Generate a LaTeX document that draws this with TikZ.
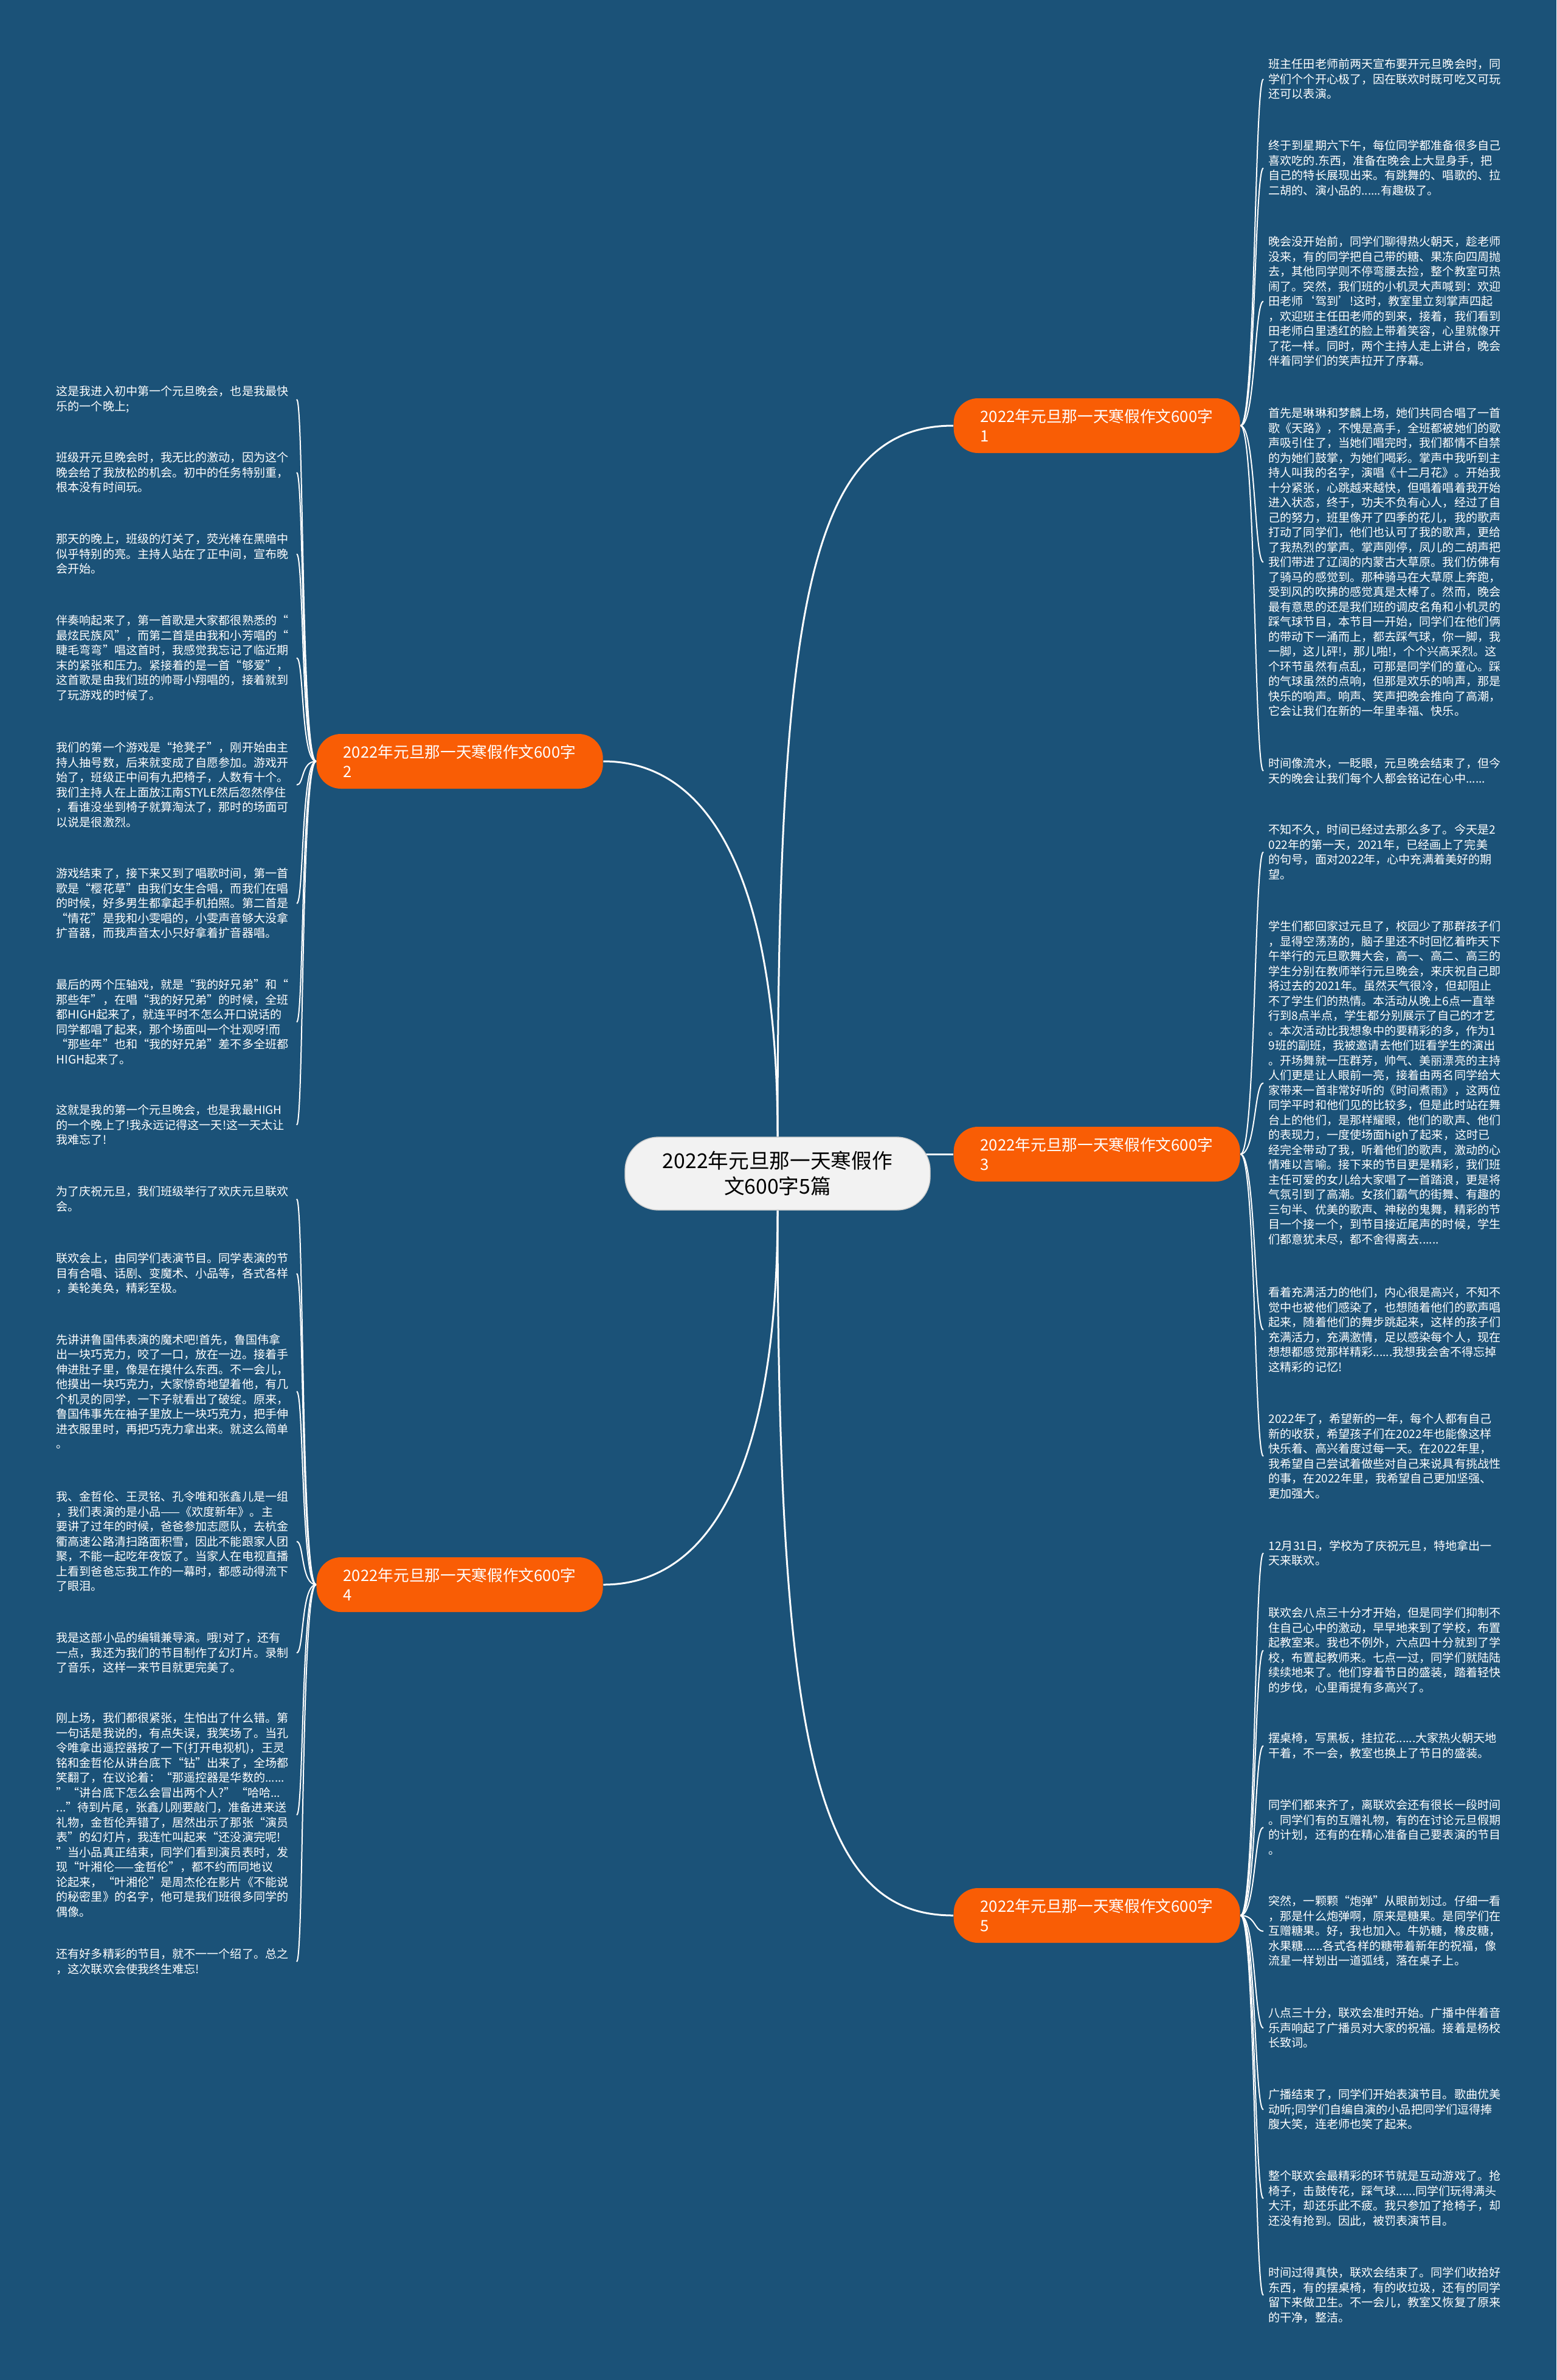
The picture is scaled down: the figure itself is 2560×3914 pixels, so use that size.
\documentclass[tikz,border=0pt]{standalone}
\usepackage{fontspec}
\newfontfamily\cjk{Noto Sans CJK SC}
\usetikzlibrary{backgrounds}

\definecolor{bgblue}{HTML}{1B5278}
\definecolor{branchorange}{HTML}{F95D05}
\definecolor{hubgray}{HTML}{F2F2F2}

\tikzset{
  leaf/.style={anchor=north west,align=left,inner xsep=0.8mm,inner ysep=0pt,
    text=white,font=\cjk\fontsize{5.43pt}{6.97pt}\selectfont},
  branch/.style={anchor=west,fill=branchorange,rounded corners=4mm,text=white,
    minimum height=9mm,text width=38.3mm,inner xsep=4.4mm,align=left,
    font=\cjk\fontsize{7.31pt}{9.1pt}\selectfont},
  hub/.style={fill=hubgray,draw=gray!40,rounded corners=5.5mm,minimum width=50.2mm,
    minimum height=12mm,align=center,text=black,
    font=\cjk\fontsize{9.59pt}{11.95pt}\selectfont},
  limb/.style={draw=white,line width=0.3mm},
  twig/.style={draw=white,line width=0.2mm}
}

\begin{document}
\begin{tikzpicture}[x=0.1mm,y=-0.1mm]
\useasboundingbox (0,0) rectangle (2560,3914);
\begin{scope}[on background layer]
\fill[bgblue] (0,0) rectangle (2560,3914);
\end{scope}

\node[hub] (cn) at (1279,1930) {2022年元旦那一天寒假作\\文600字5篇};

\node[branch] (b1) at (1568,700) {2022年元旦那一天寒假作文600字\\1};
\node[branch] (b2) at (520,1252) {2022年元旦那一天寒假作文600字\\2};
\node[branch] (b3) at (1568,1898) {2022年元旦那一天寒假作文600字\\3};
\node[branch] (b4) at (520,2606) {2022年元旦那一天寒假作文600字\\4};
\node[branch] (b5) at (1568,3150) {2022年元旦那一天寒假作文600字\\5};

% branch 1
\node[leaf] (R1a) at (2078,96) {班主任田老师前两天宣布要开元旦晚会时，同\\学们个个开心极了，因在联欢时既可吃又可玩\\还可以表演。};
\node[leaf] (R1b) at (2078,230) {终于到星期六下午，每位同学都准备很多自己\\喜欢吃的.东西，准备在晚会上大显身手，把\\自己的特长展现出来。有跳舞的、唱歌的、拉\\二胡的、演小品的......有趣极了。};
\node[leaf] (R1c) at (2078,388) {晚会没开始前，同学们聊得热火朝天，趁老师\\没来，有的同学把自己带的糖、果冻向四周抛\\去，其他同学则不停弯腰去捡，整个教室可热\\闹了。突然，我们班的小机灵大声喊到：欢迎\\田老师‘驾到’!这时，教室里立刻掌声四起\\，欢迎班主任田老师的到来，接着，我们看到\\田老师白里透红的脸上带着笑容，心里就像开\\了花一样。同时，两个主持人走上讲台，晚会\\伴着同学们的笑声拉开了序幕。};
\node[leaf] (R1d) at (2078,670) {首先是琳琳和梦麟上场，她们共同合唱了一首\\歌《天路》，不愧是高手，全班都被她们的歌\\声吸引住了，当她们唱完时，我们都情不自禁\\的为她们鼓掌，为她们喝彩。掌声中我听到主\\持人叫我的名字，演唱《十二月花》。开始我\\十分紧张，心跳越来越快，但唱着唱着我开始\\进入状态，终于，功夫不负有心人，经过了自\\己的努力，班里像开了四季的花儿，我的歌声\\打动了同学们，他们也认可了我的歌声，更给\\了我热烈的掌声。掌声刚停，凤儿的二胡声把\\我们带进了辽阔的内蒙古大草原。我们仿佛有\\了骑马的感觉到。那种骑马在大草原上奔跑，\\受到风的吹拂的感觉真是太棒了。然而，晚会\\最有意思的还是我们班的调皮名角和小机灵的\\踩气球节目，本节目一开始，同学们在他们俩\\的带动下一涌而上，都去踩气球，你一脚，我\\一脚，这儿砰!，那儿啪!，个个兴高采烈。这\\个环节虽然有点乱，可那是同学们的童心。踩\\的气球虽然的点响，但那是欢乐的响声，那是\\快乐的响声。响声、笑声把晚会推向了高潮，\\它会让我们在新的一年里幸福、快乐。};
\node[leaf] (R1e) at (2078,1246) {时间像流水，一眨眼，元旦晚会结束了，但今\\天的晚会让我们每个人都会铭记在心中......};

% branch 3
\node[leaf] (R3a) at (2078,1355) {不知不久，时间已经过去那么多了。今天是2\\022年的第一天，2021年，已经画上了完美\\的句号，面对2022年，心中充满着美好的期\\望。};
\node[leaf] (R3b) at (2078,1514) {学生们都回家过元旦了，校园少了那群孩子们\\，显得空荡荡的，脑子里还不时回忆着昨天下\\午举行的元旦歌舞大会，高一、高二、高三的\\学生分别在教师举行元旦晚会，来庆祝自己即\\将过去的2021年。虽然天气很冷，但却阻止\\不了学生们的热情。本活动从晚上6点一直举\\行到8点半点，学生都分别展示了自己的才艺\\。本次活动比我想象中的要精彩的多，作为1\\9班的副班，我被邀请去他们班看学生的演出\\。开场舞就一压群芳，帅气、美丽漂亮的主持\\人们更是让人眼前一亮，接着由两名同学给大\\家带来一首非常好听的《时间煮雨》，这两位\\同学平时和他们见的比较多，但是此时站在舞\\台上的他们，是那样耀眼，他们的歌声、他们\\的表现力，一度使场面high了起来，这时已\\经完全带动了我，听着他们的歌声，激动的心\\情难以言喻。接下来的节目更是精彩，我们班\\主任可爱的女儿给大家唱了一首踏浪，更是将\\气氛引到了高潮。女孩们霸气的街舞、有趣的\\三句半、优美的歌声、神秘的鬼舞，精彩的节\\目一个接一个，到节目接近尾声的时候，学生\\们都意犹未尽，都不舍得离去......};
\node[leaf] (R3c) at (2078,2116) {看着充满活力的他们，内心很是高兴，不知不\\觉中也被他们感染了，也想随着他们的歌声唱\\起来，随着他们的舞步跳起来，这样的孩子们\\充满活力，充满激情，足以感染每个人，现在\\想想都感觉那样精彩......我想我会舍不得忘掉\\这精彩的记忆!};
\node[leaf] (R3d) at (2078,2324) {2022年了，希望新的一年，每个人都有自己\\新的收获，希望孩子们在2022年也能像这样\\快乐着、高兴着度过每一天。在2022年里，\\我希望自己尝试着做些对自己来说具有挑战性\\的事，在2022年里，我希望自己更加坚强、\\更加强大。};

% branch 5
\node[leaf] (R5a) at (2078,2532) {12月31日，学校为了庆祝元旦，特地拿出一\\天来联欢。};
\node[leaf] (R5b) at (2078,2643) {联欢会八点三十分才开始，但是同学们抑制不\\住自己心中的激动，早早地来到了学校，布置\\起教室来。我也不例外，六点四十分就到了学\\校，布置起教师来。七点一过，同学们就陆陆\\续续地来了。他们穿着节日的盛装，踏着轻快\\的步伐，心里甭提有多高兴了。};
\node[leaf] (R5c) at (2078,2849) {摆桌椅，写黑板，挂拉花......大家热火朝天地\\干着，不一会，教室也换上了节日的盛装。};
\node[leaf] (R5d) at (2078,2959) {同学们都来齐了，离联欢会还有很长一段时间\\。同学们有的互赠礼物，有的在讨论元旦假期\\的计划，还有的在精心准备自己要表演的节目\\。};
\node[leaf] (R5e) at (2078,3117) {突然，一颗颗“炮弹”从眼前划过。仔细一看\\，那是什么炮弹啊，原来是糖果。是同学们在\\互赠糖果。好，我也加入。牛奶糖，橡皮糖，\\水果糖......各式各样的糖带着新年的祝福，像\\流星一样划出一道弧线，落在桌子上。};
\node[leaf] (R5f) at (2078,3301) {八点三十分，联欢会准时开始。广播中伴着音\\乐声响起了广播员对大家的祝福。接着是杨校\\长致词。};
\node[leaf] (R5g) at (2078,3435) {广播结束了，同学们开始表演节目。歌曲优美\\动听;同学们自编自演的小品把同学们逗得捧\\腹大笑，连老师也笑了起来。};
\node[leaf] (R5h) at (2078,3569) {整个联欢会最精彩的环节就是互动游戏了。抢\\椅子，击鼓传花，踩气球......同学们玩得满头\\大汗，却还乐此不疲。我只参加了抢椅子，却\\还没有抢到。因此，被罚表演节目。};
\node[leaf] (R5i) at (2078,3728) {时间过得真快，联欢会结束了。同学们收拾好\\东西，有的摆桌椅，有的收垃圾，还有的同学\\留下来做卫生。不一会儿，教室又恢复了原来\\的干净，整洁。};

% branch 2
\node[leaf] (L2a) at (84,634) {这是我进入初中第一个元旦晚会，也是我最快\\乐的一个晚上;};
\node[leaf] (L2b) at (84,743) {班级开元旦晚会时，我无比的激动，因为这个\\晚会给了我放松的机会。初中的任务特别重，\\根本没有时间玩。};
\node[leaf] (L2c) at (84,877) {那天的晚上，班级的灯关了，荧光棒在黑暗中\\似乎特别的亮。主持人站在了正中间，宣布晚\\会开始。};
\node[leaf] (L2d) at (84,1011) {伴奏响起来了，第一首歌是大家都很熟悉的“\\最炫民族风”，而第二首是由我和小芳唱的“\\睫毛弯弯”唱这首时，我感觉我忘记了临近期\\末的紧张和压力。紧接着的是一首“够爱”，\\这首歌是由我们班的帅哥小翔唱的，接着就到\\了玩游戏的时候了。};
\node[leaf] (L2e) at (84,1220) {我们的第一个游戏是“抢凳子”，刚开始由主\\持人抽号数，后来就变成了自愿参加。游戏开\\始了，班级正中间有九把椅子，人数有十个。\\我们主持人在上面放江南STYLE然后忽然停住\\，看谁没坐到椅子就算淘汰了，那时的场面可\\以说是很激烈。};
\node[leaf] (L2f) at (84,1427) {游戏结束了，接下来又到了唱歌时间，第一首\\歌是“樱花草”由我们女生合唱，而我们在唱\\的时候，好多男生都拿起手机拍照。第二首是\\“情花”是我和小雯唱的，小雯声音够大没拿\\扩音器，而我声音太小只好拿着扩音器唱。};
\node[leaf] (L2g) at (84,1610) {最后的两个压轴戏，就是“我的好兄弟”和“\\那些年”，在唱“我的好兄弟”的时候，全班\\都HIGH起来了，就连平时不怎么开口说话的\\同学都唱了起来，那个场面叫一个壮观呀!而\\“那些年”也和“我的好兄弟”差不多全班都\\HIGH起来了。};
\node[leaf] (L2h) at (84,1816) {这就是我的第一个元旦晚会，也是我最HIGH\\的一个晚上了!我永远记得这一天!这一天太让\\我难忘了!};

% branch 4
\node[leaf] (L4a) at (84,1950) {为了庆祝元旦，我们班级举行了欢庆元旦联欢\\会。};
\node[leaf] (L4b) at (84,2060) {联欢会上，由同学们表演节目。同学表演的节\\目有合唱、话剧、变魔术、小品等，各式各样\\，美轮美奂，精彩至极。};
\node[leaf] (L4c) at (84,2193) {先讲讲鲁国伟表演的魔术吧!首先，鲁国伟拿\\出一块巧克力，咬了一口，放在一边。接着手\\伸进肚子里，像是在摸什么东西。不一会儿，\\他摸出一块巧克力，大家惊奇地望着他，有几\\个机灵的同学，一下子就看出了破绽。原来，\\鲁国伟事先在袖子里放上一块巧克力，把手伸\\进衣服里时，再把巧克力拿出来。就这么简单\\。};
\node[leaf] (L4d) at (84,2452) {我、金哲伦、王灵铭、孔令唯和张鑫儿是一组\\，我们表演的是小品——《欢度新年》。主\\要讲了过年的时候，爸爸参加志愿队，去杭金\\衢高速公路清扫路面积雪，因此不能跟家人团\\聚，不能一起吃年夜饭了。当家人在电视直播\\上看到爸爸忘我工作的一幕时，都感动得流下\\了眼泪。};
\node[leaf] (L4e) at (84,2684) {我是这部小品的编辑兼导演。哦!对了，还有\\一点，我还为我们的节目制作了幻灯片。录制\\了音乐，这样一来节目就更完美了。};
\node[leaf] (L4f) at (84,2816) {刚上场，我们都很紧张，生怕出了什么错。第\\一句话是我说的，有点失误，我笑场了。当孔\\令唯拿出遥控器按了一下(打开电视机)，王灵\\铭和金哲伦从讲台底下“钻”出来了，全场都\\笑翻了，在议论着：“那遥控器是华数的......\\”“讲台底下怎么会冒出两个人?”“哈哈...\\...”待到片尾，张鑫儿刚要敲门，准备进来送\\礼物，金哲伦弄错了，居然出示了那张“演员\\表”的幻灯片，我连忙叫起来“还没演完呢!\\”当小品真正结束，同学们看到演员表时，发\\现“叶湘伦——金哲伦”，都不约而同地议\\论起来，“叶湘伦”是周杰伦在影片《不能说\\的秘密里》的名字，他可是我们班很多同学的\\偶像。};
\node[leaf] (L4g) at (84,3204) {还有好多精彩的节目，就不一一个绍了。总之\\，这次联欢会使我终生难忘!};

\coordinate (lhook) at (488,0);

\begin{scope}[on background layer]
\draw[limb] (cn.north) .. controls (1279,1000) and (1330,700) .. (b1.west);
\draw[limb] (cn.north) .. controls (1279,1450) and (1170,1252) .. (b2.east);
\draw[limb] ([xshift=-2mm]cn.east |- b3.west) -- (b3.west);
\draw[limb] (cn.south) .. controls (1279,2410) and (1170,2606) .. (b4.east);
\draw[limb] (cn.south) .. controls (1279,2900) and (1350,3150) .. (b5.west);

\foreach \l in {R1a,R1b,R1c,R1d,R1e}
  \draw[twig] (b1.east) .. controls +(25,0) and +(-15,0) .. (\l.west);
\foreach \l in {R3a,R3b,R3c,R3d}
  \draw[twig] (b3.east) .. controls +(25,0) and +(-15,0) .. (\l.west);
\foreach \l in {R5a,R5b,R5c,R5d,R5e,R5f,R5g,R5h,R5i}
  \draw[twig] (b5.east) .. controls +(25,0) and +(-15,0) .. (\l.west);
\foreach \l in {L2a,L2b,L2c,L2d,L2e,L2f,L2g,L2h}
  \draw[twig] (b2.west) .. controls +(-25,0) and +(12,0) .. (\l.west -| lhook);
\foreach \l in {L4a,L4b,L4c,L4d,L4e,L4f,L4g}
  \draw[twig] (b4.west) .. controls +(-25,0) and +(12,0) .. (\l.west -| lhook);
\end{scope}
\end{tikzpicture}
\end{document}
